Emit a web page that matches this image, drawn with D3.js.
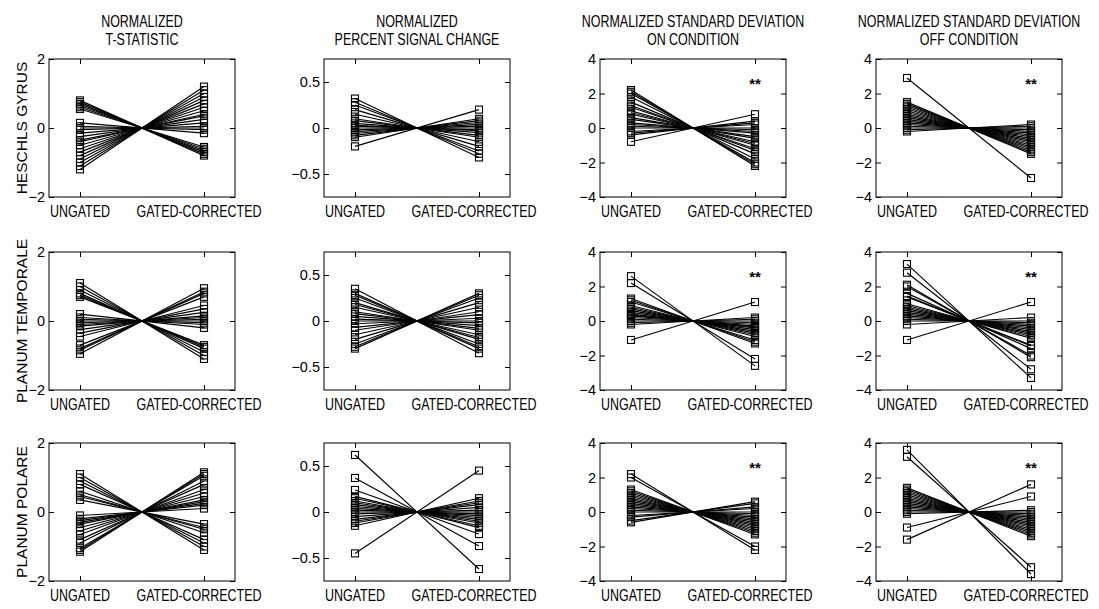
<!DOCTYPE html>
<html>
<head>
<meta charset="utf-8">
<script src="https://cdnjs.cloudflare.com/ajax/libs/d3/7.8.5/d3.min.js"></script>
<style>
  body { margin: 0; background: #fff; }
  .box { fill: none; stroke: #000; stroke-width: 1; }
  .tick line { stroke: #000; }
  .subject { fill: none; stroke: #000; stroke-width: 1.15; }
  .marker { fill: none; stroke: #000; stroke-width: 1.1; }
  .ylab { font-family: "Liberation Sans", Arial, sans-serif; font-size: 14.5px; }
  .xlab, .title { font-family: "Liberation Sans", Arial, sans-serif; font-size: 16px; }
  .rowlab { font-family: "Liberation Sans", Arial, sans-serif; font-size: 15.5px; }
  .star { font-family: "Liberation Sans", Arial, sans-serif; font-size: 15px; font-weight: bold; }
</style>
</head>
<body>
<div class="test"></div>
<script>
// column titles, row names, tick labels
var colTitles = [["NORMALIZED", "T-STATISTIC"], ["NORMALIZED", "PERCENT SIGNAL CHANGE"],
                 ["NORMALIZED STANDARD DEVIATION", "ON CONDITION"], ["NORMALIZED STANDARD DEVIATION", "OFF CONDITION"]];
var rowNames = ["HESCHLS GYRUS", "PLANUM TEMPORALE", "PLANUM POLARE"];
var conditions = ["UNGATED", "GATED-CORRECTED"];
var yTicks = [[-2, 0, 2], [-0.5, 0, 0.5], [-4, -2, 0, 2, 4], [-4, -2, 0, 2, 4]];
var yLimits = [[-2, 2], [-0.75, 0.75], [-4, 4], [-4, 4]];
var significant = [[false, false, true, true], [false, false, true, true], [false, false, true, true]];

// heschls gyrus
var hgTstatUng = [0.8, 0.75, 0.7, 0.65, 0.6, 0.55, 0.15, 0.05, 0, -0.05, -0.15, -0.25, -0.35, -0.4, -0.5, -0.6, -0.7, -0.8, -0.9, -1.0, -1.1, -1.2];
var hgTstatGat = [-0.8, -0.75, -0.7, -0.65, -0.6, -0.55, -0.15, -0.05, 0, 0.05, 0.15, 0.25, 0.35, 0.4, 0.5, 0.6, 0.7, 0.8, 0.9, 1.0, 1.1, 1.2];
var hgPscUng = [0.32, 0.28, 0.25, 0.2, 0.15, 0.1, 0.08, 0.05, 0.03, 0.02, 0, -0.02, -0.04, -0.06, -0.08, -0.1, -0.2];
var hgPscGat = [-0.32, -0.28, -0.25, -0.2, -0.15, -0.1, -0.08, -0.05, -0.03, -0.02, 0, 0.02, 0.04, 0.06, 0.08, 0.1, 0.2];
var hgSdOnUng = [2.2, 2.1, 2.0, 1.8, 1.5, 1.3, 1.2, 1.0, 0.9, 0.8, 0.6, 0.5, 0.3, 0.2, 0.1, 0, -0.2, -0.3, -0.4, -0.8];
var hgSdOnGat = [-2.2, -2.1, -2.0, -1.8, -1.5, -1.3, -1.2, -1.0, -0.9, -0.8, -0.6, -0.5, -0.3, -0.2, -0.1, 0, 0.2, 0.3, 0.4, 0.8];
var hgSdOffUng = [2.9, 1.5, 1.4, 1.3, 1.2, 1.1, 1.0, 0.9, 0.8, 0.7, 0.6, 0.5, 0.4, 0.3, 0.2, 0.1, 0, -0.1, -0.2];
var hgSdOffGat = [-2.9, -1.5, -1.4, -1.3, -1.2, -1.1, -1.0, -0.9, -0.8, -0.7, -0.6, -0.5, -0.4, -0.3, -0.2, -0.1, 0, 0.1, 0.2];
// planum temporale
var ptTstatUng = [1.1, 1.0, 0.9, 0.8, 0.75, 0.7, 0.2, 0.1, 0.05, 0, -0.05, -0.1, -0.15, -0.25, -0.35, -0.45, -0.7, -0.8, -0.85, -0.95];
var ptTstatGat = [-1.1, -1.0, -0.9, -0.8, -0.75, -0.7, -0.2, -0.1, -0.05, 0, 0.05, 0.1, 0.15, 0.25, 0.35, 0.45, 0.7, 0.8, 0.85, 0.95];
var ptPscUng = [0.35, 0.3, 0.28, 0.25, 0.2, 0.18, 0.15, 0.1, 0.08, 0.05, 0.02, 0, -0.03, -0.07, -0.1, -0.15, -0.2, -0.25, -0.28, -0.3];
var ptPscGat = [-0.35, -0.3, -0.28, -0.25, -0.2, -0.18, -0.15, -0.1, -0.08, -0.05, -0.02, 0, 0.03, 0.07, 0.1, 0.15, 0.2, 0.25, 0.28, 0.3];
var ptSdOnUng = [2.6, 2.2, 1.3, 1.2, 1.1, 0.9, 0.8, 0.7, 0.6, 0.5, 0.4, 0.35, 0.3, 0.2, 0.1, 0, -0.1, -0.2, -1.1];
var ptSdOnGat = [-2.6, -2.2, -1.3, -1.2, -1.1, -0.9, -0.8, -0.7, -0.6, -0.5, -0.4, -0.35, -0.3, -0.2, -0.1, 0, 0.1, 0.2, 1.1];
var ptSdOffUng = [3.3, 2.8, 2.1, 2.0, 1.6, 1.45, 1.4, 1.0, 0.9, 0.8, 0.7, 0.6, 0.5, 0.4, 0.3, 0.2, 0.1, 0, -0.2, -1.1];
var ptSdOffGat = [-3.3, -2.8, -2.1, -2.0, -1.6, -1.45, -1.4, -1.0, -0.9, -0.8, -0.7, -0.6, -0.5, -0.4, -0.3, -0.2, -0.1, 0, 0.2, 1.1];
// planum polare
var ppTstatUng = [1.1, 1.0, 0.9, 0.8, 0.6, 0.5, 0.45, 0.35, -0.1, -0.2, -0.25, -0.3, -0.35, -0.45, -0.55, -0.65, -0.8, -0.9, -1.05, -1.1, -1.15];
var ppTstatGat = [-1.1, -1.0, -0.9, -0.8, -0.6, -0.5, -0.45, -0.35, 0.1, 0.2, 0.25, 0.3, 0.35, 0.45, 0.55, 0.65, 0.8, 0.9, 1.05, 1.1, 1.15];
var ppPscUng = [0.62, 0.37, 0.24, 0.17, 0.15, 0.12, 0.1, 0.08, 0.06, 0.04, 0.02, 0, -0.02, -0.05, -0.08, -0.1, -0.12, -0.15, -0.45];
var ppPscGat = [-0.62, -0.37, -0.24, -0.17, -0.15, -0.12, -0.1, -0.08, -0.06, -0.04, -0.02, 0, 0.02, 0.05, 0.08, 0.1, 0.12, 0.15, 0.45];
var ppSdOnUng = [2.2, 2.0, 1.3, 1.2, 1.1, 1.0, 0.9, 0.8, 0.7, 0.6, 0.5, 0.4, 0.3, 0.2, 0.1, 0, -0.2, -0.3, -0.5, -0.6];
var ppSdOnGat = [-2.2, -2.0, -1.3, -1.2, -1.1, -1.0, -0.9, -0.8, -0.7, -0.6, -0.5, -0.4, -0.3, -0.2, -0.1, 0, 0.2, 0.3, 0.5, 0.6];
var ppSdOffUng = [3.6, 3.2, 1.4, 1.3, 1.2, 1.1, 1.0, 0.9, 0.8, 0.7, 0.6, 0.5, 0.4, 0.3, 0.2, 0.1, 0, -0.1, -0.9, -1.6];
var ppSdOffGat = [-3.6, -3.2, -1.4, -1.3, -1.2, -1.1, -1.0, -0.9, -0.8, -0.7, -0.6, -0.5, -0.4, -0.3, -0.2, -0.1, 0, 0.1, 0.9, 1.6];

var panels = [
  [[hgTstatUng, hgTstatGat], [hgPscUng, hgPscGat], [hgSdOnUng, hgSdOnGat], [hgSdOffUng, hgSdOffGat]],
  [[ptTstatUng, ptTstatGat], [ptPscUng, ptPscGat], [ptSdOnUng, ptSdOnGat], [ptSdOffUng, ptSdOffGat]],
  [[ppTstatUng, ppTstatGat], [ppPscUng, ppPscGat], [ppSdOnUng, ppSdOnGat], [ppSdOffUng, ppSdOffGat]]
];

var ww = 1099, hh = 609
  , colLeft = [49, 324, 600, 876]
  , rowTop = [59, 252, 443]
  , pw = 186
  , ph = 138
  , msize = 7
  , narrow = 0.78   // the scan's lettering is a condensed helvetica
  , labelShift = [0, -5]  // the long label sits a bit left of its tick
  , svg = d3.select('.test').append('svg').attr('width', ww).attr('height', hh);

// column titles
colTitles.forEach(function(t, c) {
  t.forEach(function(line, i) {
    svg.append('text').attr('class', 'title').attr('text-anchor', 'middle')
      .attr('transform', `translate(${colLeft[c] + pw / 2},${27 + i * 18}) scale(${narrow},1)`)
      .text(line);
  });
});

// row labels
rowNames.forEach(function(name, r) {
  svg.append('text').attr('class', 'rowlab')
    .attr('transform', `translate(21,${rowTop[r] + ph / 2}) rotate(-90)`)
    .attr('text-anchor', 'middle').attr('dominant-baseline', 'central')
    .text(name);
});

panels.forEach(function(row, r) {
  row.forEach(function(pair, c) {
    var g = svg.append('g').attr('transform', `translate(${colLeft[c]},${rowTop[r]})`)
      , x = d3.scaleLinear().domain([0.75, 2.25]).range([0, pw])
      , y = d3.scaleLinear().domain(yLimits[c]).range([ph, 0])
      , subjects = d3.zip(pair[0], pair[1]);

    // inward ticks on all four sides (matlab box)
    g.append('g').attr('class', 'axis').attr('transform', `translate(0,${ph})`)
      .call(d3.axisBottom(x).tickValues([1, 2]).tickSize(-5).tickFormat(''));
    g.append('g').attr('class', 'axis')
      .call(d3.axisTop(x).tickValues([1, 2]).tickSize(-5).tickFormat(''));
    g.append('g').attr('class', 'axis')
      .call(d3.axisLeft(y).tickValues(yTicks[c]).tickSize(-5).tickFormat(''));
    g.append('g').attr('class', 'axis').attr('transform', `translate(${pw},0)`)
      .call(d3.axisRight(y).tickValues(yTicks[c]).tickSize(-5).tickFormat(''));
    g.selectAll('.axis .domain').remove();

    g.selectAll('.ylab').data(yTicks[c]).enter().append('text')
      .attr('class', 'ylab').attr('x', -4).attr('y', d => y(d))
      .attr('text-anchor', 'end').attr('dominant-baseline', 'central')
      .text(d => d3.format('')(d));

    g.selectAll('.xlab').data(conditions).enter().append('text')
      .attr('class', 'xlab')
      .attr('transform', (d, i) => `translate(${x(i + 1) + labelShift[i]},${ph + 20}) scale(${narrow},1)`)
      .attr('text-anchor', 'middle').text(d => d);

    g.selectAll('.subject').data(subjects).enter().append('line')
      .attr('class', 'subject')
      .attr('x1', x(1)).attr('y1', d => y(d[0]))
      .attr('x2', x(2)).attr('y2', d => y(d[1]));

    subjects.forEach(function(d) {
      g.append('rect').attr('class', 'marker')
        .attr('x', x(1) - msize / 2).attr('y', y(d[0]) - msize / 2)
        .attr('width', msize).attr('height', msize);
      g.append('rect').attr('class', 'marker')
        .attr('x', x(2) - msize / 2).attr('y', y(d[1]) - msize / 2)
        .attr('width', msize).attr('height', msize);
    });

    if (significant[r][c]) {
      g.append('text').attr('class', 'star').attr('x', x(2)).attr('y', y(2.6))
        .attr('text-anchor', 'middle').attr('dominant-baseline', 'central').text('**');
    }

    g.append('rect').attr('class', 'box').attr('width', pw).attr('height', ph);
  });
});
</script>
</body>
</html>
